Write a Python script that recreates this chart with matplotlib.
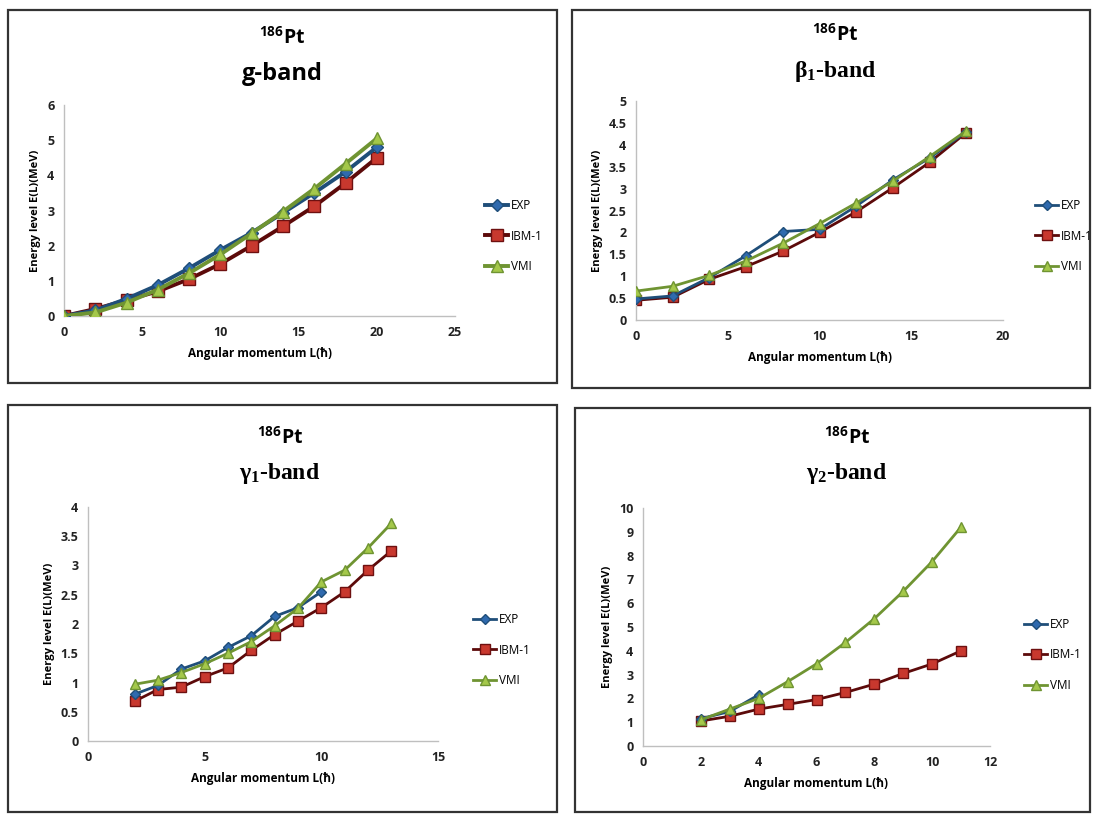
import matplotlib
matplotlib.use("Agg")
import matplotlib.pyplot as plt
from matplotlib.patches import Rectangle
from matplotlib.ticker import MultipleLocator, FuncFormatter

# g-band
g_L = [0, 2, 4, 6, 8, 10, 12, 14, 16, 18, 20]
g_exp = [0, 0.16, 0.49, 0.88, 1.36, 1.88, 2.37, 2.93, 3.5, 4.1, 4.8]
g_ibm = [0, 0.2, 0.45, 0.7, 1.05, 1.48, 2.0, 2.55, 3.12, 3.78, 4.5]
g_vmi = [0, 0.1, 0.38, 0.75, 1.22, 1.75, 2.35, 2.97, 3.62, 4.33, 5.05]

# beta1-band
b_L = [0, 2, 4, 6, 8, 10, 12, 14, 16, 18]
b_exp = [0.48, 0.55, 0.97, 1.47, 2.02, 2.07, 2.6, 3.2, 3.7, 4.3]
b_ibm = [0.45, 0.52, 0.93, 1.22, 1.57, 2.0, 2.47, 3.02, 3.6, 4.28]
b_vmi = [0.66, 0.77, 1.02, 1.35, 1.75, 2.2, 2.67, 3.17, 3.73, 4.32]

# gamma1-band
c_L = [2, 3, 4, 5, 6, 7, 8, 9, 10, 11, 12, 13]
c_exp_L = [2, 3, 4, 5, 6, 7, 8, 9, 10]
c_exp = [0.8, 0.95, 1.23, 1.37, 1.6, 1.8, 2.13, 2.28, 2.55]
c_ibm = [0.68, 0.88, 0.92, 1.1, 1.25, 1.55, 1.82, 2.05, 2.28, 2.55, 2.92, 3.25]
c_vmi = [0.97, 1.04, 1.17, 1.32, 1.5, 1.7, 1.97, 2.27, 2.72, 2.92, 3.3, 3.72]

# gamma2-band
d_L = [2, 3, 4, 5, 6, 7, 8, 9, 10, 11]
d_exp_L = [2, 3, 4]
d_exp = [1.15, 1.45, 2.15]
d_ibm = [1.05, 1.25, 1.55, 1.75, 1.95, 2.25, 2.6, 3.05, 3.45, 4.0]
d_vmi = [1.1, 1.55, 2.0, 2.7, 3.45, 4.35, 5.35, 6.5, 7.75, 9.2]

sans = ["Open Sans", "DejaVu Sans"]
serif = ["Liberation Serif", "DejaVu Serif"]

W, H = 1094, 815
fig = plt.figure(figsize=(W / 100, H / 100), dpi=100)


def fx(px):
    return px / W


def fy(py):
    return 1 - py / H


def panel(box, frame, xs, exp_x, exp, ibm, vmi, xlim, xstep, ylim, ystep,
          band, band_family, title_x, title_y, leg_y, leg_x, lw, ms):
    l, r, t, b = box
    ax = fig.add_axes([fx(l), fy(b), fx(r) - fx(l), fy(t) - fy(b)])
    ax.plot(exp_x, exp, color="#1F4E79", lw=lw, marker="D", ms=ms * 0.7,
            mfc="#2F6AAE", mec="#1F4E79", label="EXP", zorder=3)
    ax.plot(xs, ibm, color="#5C0A0A", lw=lw, marker="s", ms=ms,
            mfc="#C8382E", mec="#6E1010", label="IBM-1", zorder=2)
    ax.plot(xs, vmi, color="#6F9432", lw=lw, marker="^", ms=ms,
            mfc="#A4C84A", mec="#6F9432", label="VMI", zorder=4)
    ax.set_xlim(*xlim)
    ax.set_ylim(*ylim)
    ax.xaxis.set_major_locator(MultipleLocator(xstep))
    ax.yaxis.set_major_locator(MultipleLocator(ystep))
    fmt = FuncFormatter(lambda v, p: "%g" % round(v, 2))
    ax.xaxis.set_major_formatter(fmt)
    ax.yaxis.set_major_formatter(fmt)
    for s in ["top", "right"]:
        ax.spines[s].set_visible(False)
    for s in ["left", "bottom"]:
        ax.spines[s].set_color("#BFBFBF")
        ax.spines[s].set_linewidth(1.0)
    ax.tick_params(length=0, labelsize=9, pad=7, colors="#222222")
    for lab in ax.get_xticklabels() + ax.get_yticklabels():
        lab.set_family(sans)
        lab.set_fontweight("bold")
    ax.set_xlabel("Angular momentum L(ħ)", family=sans, fontweight="bold",
                  fontsize=8.5, labelpad=6)
    ax.set_ylabel("Energy level E(L)(MeV)", family=sans, fontweight="bold",
                  fontsize=8, labelpad=4)
    ax.legend(loc="center left", bbox_to_anchor=(fx(leg_x), fy(leg_y)),
              bbox_transform=fig.transFigure, frameon=False,
              prop={"family": sans, "size": 8.5}, handlelength=2.0,
              labelspacing=1.5, handletextpad=0.2, borderaxespad=0)
    fl, fr, ft, fb = frame
    fig.add_artist(Rectangle((fx(fl), fy(fb)), fx(fr) - fx(fl), fy(ft) - fy(fb),
                             transform=fig.transFigure, fill=False,
                             ec="#333333", lw=1.6))
    fig.text(fx(title_x), fy(title_y), r"$\mathregular{^{186}Pt}$",
             ha="center", va="center", family=sans, fontweight="bold",
             fontsize=14)
    fig.text(fx(title_x), fy(title_y + 36), band, ha="center", va="center",
             family=band_family, fontweight="bold", fontsize=17)


panel((64, 455, 105, 316), (8, 557, 10, 383), g_L, g_L, g_exp, g_ibm, g_vmi,
      (0, 25), 5, (0, 6), 1, "g-band", sans, 282, 38, 236, 480, 2.8, 9)
panel((636, 1003, 101, 320), (572, 1090, 10, 388), b_L, b_L, b_exp, b_ibm,
      b_vmi, (0, 20), 5, (0, 5), 0.5, r"$\mathregular{\beta_1}$-band", serif,
      835, 35, 236, 1030, 2.0, 7)
panel((88, 438, 507, 741), (8, 557, 405, 812), c_L, c_exp_L, c_exp, c_ibm,
      c_vmi, (0, 15), 5, (0, 4), 0.5, r"$\mathregular{\gamma_1}$-band", serif,
      280, 438, 650, 468, 2.0, 7)
panel((643, 990, 508, 746), (575, 1090, 408, 812), d_L, d_exp_L, d_exp, d_ibm,
      d_vmi, (0, 12), 2, (0, 10), 1, r"$\mathregular{\gamma_2}$-band", serif,
      847, 438, 655, 1019, 2.0, 7)

fig.savefig("out.png", dpi=100)
